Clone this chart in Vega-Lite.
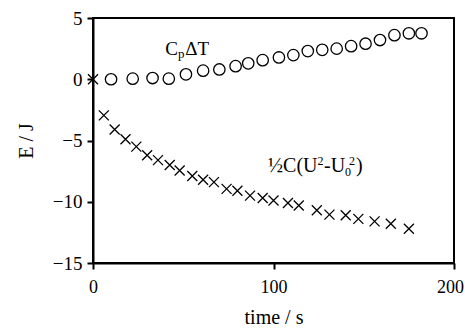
{
  "$schema": "https://vega.github.io/schema/vega-lite/v6.json",
  "width": 361,
  "height": 245,
  "autosize": "none",
  "padding": {"left": 93, "top": 18, "right": 11, "bottom": 67},
  "background": "white",
  "config": {
    "font": "Liberation Serif",
    "view": {"stroke": "black", "strokeWidth": 2},
    "axis": {
      "grid": false,
      "domainColor": "black",
      "domainWidth": 2,
      "tickColor": "black",
      "tickWidth": 2,
      "tickSize": 6,
      "labelFont": "Liberation Serif",
      "labelFontSize": 18,
      "labelColor": "black",
      "titleFont": "Liberation Serif",
      "titleFontSize": 20,
      "titleFontWeight": "normal",
      "titleColor": "black"
    },
    "text": {"font": "Liberation Serif", "color": "black"}
  },
  "datasets": {
    "cp": [
      {"t": 10, "E": 0.0}, {"t": 22, "E": 0.05}, {"t": 33, "E": 0.1}, {"t": 42, "E": 0.05},
      {"t": 51.5, "E": 0.4}, {"t": 61, "E": 0.7}, {"t": 70, "E": 0.8}, {"t": 79, "E": 1.07},
      {"t": 86, "E": 1.3}, {"t": 94, "E": 1.56}, {"t": 103, "E": 1.78}, {"t": 111, "E": 1.97},
      {"t": 119, "E": 2.3}, {"t": 127, "E": 2.4}, {"t": 135, "E": 2.5}, {"t": 143, "E": 2.7},
      {"t": 151, "E": 2.9}, {"t": 159, "E": 3.2}, {"t": 167, "E": 3.6}, {"t": 175, "E": 3.75},
      {"t": 182, "E": 3.75}
    ],
    "ec": [
      {"t": 0, "E": 0}, {"t": 6, "E": -2.95}, {"t": 12, "E": -4.1}, {"t": 18, "E": -4.9},
      {"t": 24, "E": -5.5}, {"t": 30, "E": -6.2}, {"t": 36, "E": -6.6}, {"t": 42.5, "E": -7.0},
      {"t": 48, "E": -7.45}, {"t": 55, "E": -7.9}, {"t": 61, "E": -8.2}, {"t": 67, "E": -8.4},
      {"t": 74, "E": -8.95}, {"t": 80, "E": -9.1}, {"t": 87, "E": -9.5}, {"t": 94, "E": -9.7},
      {"t": 100, "E": -9.9}, {"t": 108, "E": -10.1}, {"t": 114, "E": -10.3}, {"t": 124, "E": -10.7},
      {"t": 131, "E": -11.05}, {"t": 140, "E": -11.1}, {"t": 147, "E": -11.4}, {"t": 156, "E": -11.6},
      {"t": 165, "E": -11.8}, {"t": 175, "E": -12.2}
    ],
    "lab1": [{"t": 40, "E": 1.95}],
    "lab2": [{"t": 97, "E": -7.6}]
  },
  "encoding": {
    "x": {"field": "t", "type": "quantitative", "scale": {"domain": [0, 200], "nice": false},
          "axis": {"title": "time / s", "values": [0, 100, 200], "labelFont": "Liberation Serif", "titleFont": "Liberation Serif",
                   "labelPadding": 9, "titlePadding": 11, "labelFlush": false,
                   "labelOffset": {"condition": {"test": "datum.value == 200", "value": -4}, "value": 0}}},
    "y": {"field": "E", "type": "quantitative", "scale": {"domain": [-15, 5], "nice": false},
          "axis": {"title": "E / J", "values": [-15, -10, -5, 0, 5], "labelFont": "Liberation Serif", "titleFont": "Liberation Serif",
                   "labelFontSize": 19, "labelPadding": 5, "titlePadding": 16, "labelFlush": false}}
  },
  "layer": [
    {"data": {"name": "cp"}, "mark": {"type": "point", "shape": "circle", "filled": false, "stroke": "black", "strokeWidth": 1.3, "size": 130, "opacity": 1}},
    {"data": {"name": "ec"}, "mark": {"type": "point", "shape": "M-1,-1L1,1M1,-1L-1,1", "filled": false, "stroke": "black", "strokeWidth": 1.3, "size": 100, "opacity": 1}},
    {"data": {"name": "lab1"}, "mark": {"type": "text", "text": "C", "align": "left", "baseline": "alphabetic", "fontSize": 19}},
    {"data": {"name": "lab1"}, "mark": {"type": "text", "text": "p", "align": "left", "baseline": "alphabetic", "fontSize": 13, "dx": 12.7, "dy": 3}},
    {"data": {"name": "lab1"}, "mark": {"type": "text", "text": "ΔT", "align": "left", "baseline": "alphabetic", "fontSize": 19, "dx": 20}},
    {"data": {"name": "lab2"}, "mark": {"type": "text", "text": "½C(U", "align": "left", "baseline": "alphabetic", "fontSize": 20}},
    {"data": {"name": "lab2"}, "mark": {"type": "text", "text": "2", "align": "left", "baseline": "alphabetic", "fontSize": 12, "dx": 49.5, "dy": -7}},
    {"data": {"name": "lab2"}, "mark": {"type": "text", "text": "-U", "align": "left", "baseline": "alphabetic", "fontSize": 20, "dx": 56}},
    {"data": {"name": "lab2"}, "mark": {"type": "text", "text": "0", "align": "left", "baseline": "alphabetic", "fontSize": 12, "dx": 77, "dy": 4}},
    {"data": {"name": "lab2"}, "mark": {"type": "text", "text": "2", "align": "left", "baseline": "alphabetic", "fontSize": 12, "dx": 81, "dy": -7}},
    {"data": {"name": "lab2"}, "mark": {"type": "text", "text": ")", "align": "left", "baseline": "alphabetic", "fontSize": 20, "dx": 88}}
  ]
}
